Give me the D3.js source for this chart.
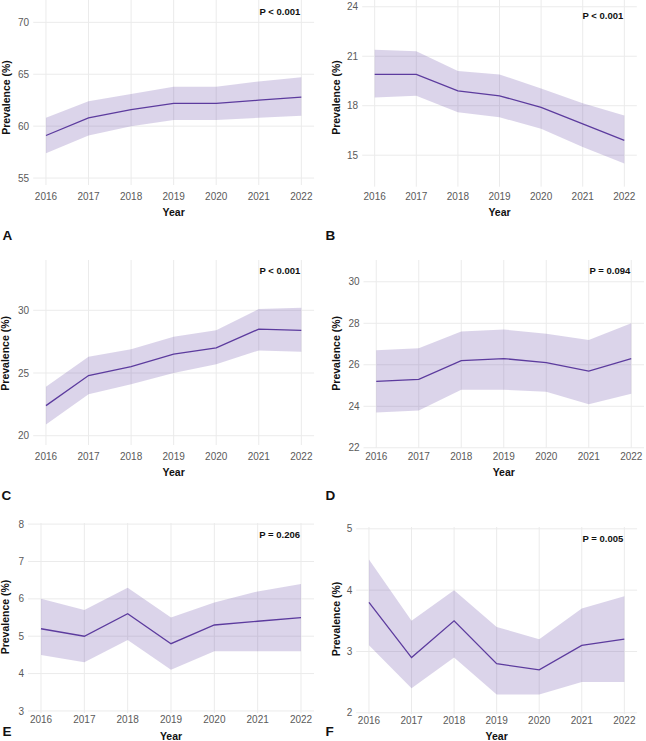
<!DOCTYPE html>
<html>
<head>
<meta charset="utf-8">
<script src="https://cdn.jsdelivr.net/npm/d3@7/dist/d3.min.js"></script>
<style>
  body { margin: 0; background: #fff; }
  svg { display: block; font-family: "Liberation Sans", Arial, Helvetica, sans-serif; }
</style>
</head>
<body>
<div id="chart"></div>
<script>
// data
var years = [2016, 2017, 2018, 2019, 2020, 2021, 2022];

var estA  = [59.1, 60.8, 61.6, 62.2, 62.2, 62.5, 62.8];
var lowA  = [57.4, 59.1, 60.0, 60.6, 60.6, 60.8, 61.0];
var highA = [60.8, 62.4, 63.1, 63.8, 63.8, 64.3, 64.7];

var estB  = [19.9, 19.9, 18.9, 18.6, 17.9, 16.9, 15.9];
var lowB  = [18.5, 18.6, 17.6, 17.3, 16.6, 15.5, 14.5];
var highB = [21.4, 21.3, 20.1, 19.9, 19.05, 18.15, 17.4];

var estC  = [22.4, 24.8, 25.5, 26.5, 27.0, 28.5, 28.4];
var lowC  = [20.9, 23.3, 24.1, 25.0, 25.7, 26.8, 26.7];
var highC = [23.9, 26.3, 26.9, 27.9, 28.4, 30.1, 30.2];

var estD  = [25.2, 25.3, 26.2, 26.3, 26.1, 25.7, 26.3];
var lowD  = [23.7, 23.8, 24.8, 24.8, 24.7, 24.1, 24.6];
var highD = [26.7, 26.8, 27.6, 27.7, 27.5, 27.2, 28.0];

var estE  = [5.2, 5.0, 5.6, 4.8, 5.3, 5.4, 5.5];
var lowE  = [4.5, 4.3, 4.9, 4.1, 4.6, 4.6, 4.6];
var highE = [6.0, 5.7, 6.3, 5.5, 5.9, 6.2, 6.4];

var estF  = [3.8, 2.9, 3.5, 2.8, 2.7, 3.1, 3.2];
var lowF  = [3.1, 2.4, 2.9, 2.3, 2.3, 2.5, 2.5];
var highF = [4.5, 3.5, 4.0, 3.4, 3.2, 3.7, 3.9];

var ticksA = [55, 60, 65, 70];
var ticksB = [15, 18, 21, 24];
var ticksC = [20, 25, 30];
var ticksD = [22, 24, 26, 28, 30];
var ticksE = [3, 4, 5, 6, 7, 8];
var ticksF = [2, 3, 4, 5];

var pLabels = ['P < 0.001', 'P < 0.001', 'P < 0.001', 'P = 0.094', 'P = 0.206', 'P = 0.005'];
var letters = ['A', 'B', 'C', 'D', 'E', 'F'];

// layout (pixels) for each panel
var layout = [
  {x0: 33.2,  x1: 314.1, y0: 0,   y1: 185,   dom: [54.33, 72.15], tickY: 200.2, titleY: 216,   yTitleX: 10,  yTitleY: 97.5, pY: 14.5,  letterX: 2.5,   letterY: 240},
  {x0: 362.2, x1: 636.8, y0: 0,   y1: 186.7, dom: [13.09, 24.41], tickY: 200.2, titleY: 216,   yTitleX: 339.5, yTitleY: 97.5, pY: 19.2,  letterX: 325.5, letterY: 239.5},
  {x0: 33.2,  x1: 314.1, y0: 260, y1: 445,   dom: [19.26, 34.01], tickY: 459.5, titleY: 476.3, yTitleX: 9,   yTitleY: 353.3, pY: 274.2, letterX: 1.5,   letterY: 499.5},
  {x0: 363.5, x1: 644,   y0: 260, y1: 448,   dom: [21.99, 31.05], tickY: 459.5, titleY: 476,   yTitleX: 339.5, yTitleY: 353.3, pY: 273.5, letterX: 325.5, letterY: 499.5},
  {x0: 28,    x1: 314,   y0: 523, y1: 713,   dom: [2.945, 8.03],  tickY: 722.8, titleY: 739.7, yTitleX: 9,   yTitleY: 617,  pY: 537.5, letterX: 2.5,   letterY: 736},
  {x0: 356.2, x1: 637.1, y0: 527, y1: 714,   dom: [1.98, 5.03],   tickY: 723.5, titleY: 739.7, yTitleX: 339.5, yTitleY: 619, pY: 541.5, letterX: 325.5, letterY: 736}
];

var est = [estA, estB, estC, estD, estE, estF];
var low = [lowA, lowB, lowC, lowD, lowE, lowF];
var high = [highA, highB, highC, highD, highE, highF];
var ticks = [ticksA, ticksB, ticksC, ticksD, ticksE, ticksF];

var purple = '#5c3b9e';
var gridColor = '#ebebeb';

var svg = d3.select('#chart')
  .append('svg')
  .attr('width', 646)
  .attr('height', 741);

layout.forEach(function(p, i) {
  var x = d3.scaleLinear().domain([2015.7, 2022.3]).range([p.x0, p.x1]);
  var y = d3.scaleLinear().domain(p.dom).range([p.y1, p.y0]);

  var rows = years.map(function(yr, k) {
    return {year: yr, est: est[i][k], low: low[i][k], high: high[i][k]};
  });

  var g = svg.append('g').attr('class', 'panel');

  // gridlines
  g.selectAll('.hgrid')
    .data(ticks[i])
    .enter().append('line')
      .attr('x1', p.x0).attr('x2', p.x1)
      .attr('y1', function(d) { return y(d); })
      .attr('y2', function(d) { return y(d); })
      .style('stroke', gridColor)
      .style('stroke-width', 1);

  g.selectAll('.vgrid')
    .data(years)
    .enter().append('line')
      .attr('x1', function(d) { return x(d); })
      .attr('x2', function(d) { return x(d); })
      .attr('y1', p.y0).attr('y2', p.y1)
      .style('stroke', gridColor)
      .style('stroke-width', 1);

  // ribbon
  var area = d3.area()
    .x(function(d) { return x(d.year); })
    .y0(function(d) { return y(d.low); })
    .y1(function(d) { return y(d.high); });

  g.append('path')
    .datum(rows)
    .attr('d', area)
    .style('fill', purple)
    .style('fill-opacity', 0.22);

  var line = d3.line()
    .x(function(d) { return x(d.year); })
    .y(function(d) { return y(d.est); });

  g.append('path')
    .datum(rows)
    .attr('d', line)
    .style('fill', 'none')
    .style('stroke', purple)
    .style('stroke-width', 1.3);

  // tick labels
  g.selectAll('.ytick')
    .data(ticks[i])
    .enter().append('text')
      .attr('x', p.x0 - 4)
      .attr('y', function(d) { return y(d); })
      .attr('dy', '0.36em')
      .attr('text-anchor', 'end')
      .style('font-size', '10px')
      .style('fill', '#5a5a5a')
      .text(function(d) { return d; });

  g.selectAll('.xtick')
    .data(years)
    .enter().append('text')
      .attr('x', function(d) { return x(d); })
      .attr('y', p.tickY)
      .attr('text-anchor', 'middle')
      .style('font-size', '10px')
      .style('fill', '#5a5a5a')
      .text(function(d) { return d; });

  // axis titles
  g.append('text')
    .attr('x', (x(2016) + x(2022)) / 2)
    .attr('y', p.titleY)
    .attr('text-anchor', 'middle')
    .style('font-size', '10.5px')
    .style('font-weight', 'bold')
    .style('fill', '#111')
    .text('Year');

  g.append('text')
    .attr('transform', 'translate(' + p.yTitleX + ',' + p.yTitleY + ') rotate(-90)')
    .attr('text-anchor', 'middle')
    .style('font-size', '10.5px')
    .style('font-weight', 'bold')
    .style('fill', '#111')
    .text('Prevalence (%)');

  // p value
  g.append('text')
    .attr('x', x(2022) - 1)
    .attr('y', p.pY)
    .attr('text-anchor', 'end')
    .style('font-size', '9.5px')
    .style('font-weight', 'bold')
    .style('fill', '#111')
    .text(pLabels[i]);

  // panel letter
  g.append('text')
    .attr('x', p.letterX)
    .attr('y', p.letterY)
    .style('font-size', '13.5px')
    .style('font-weight', 'bold')
    .style('fill', '#111')
    .text(letters[i]);
});
</script>
</body>
</html>
